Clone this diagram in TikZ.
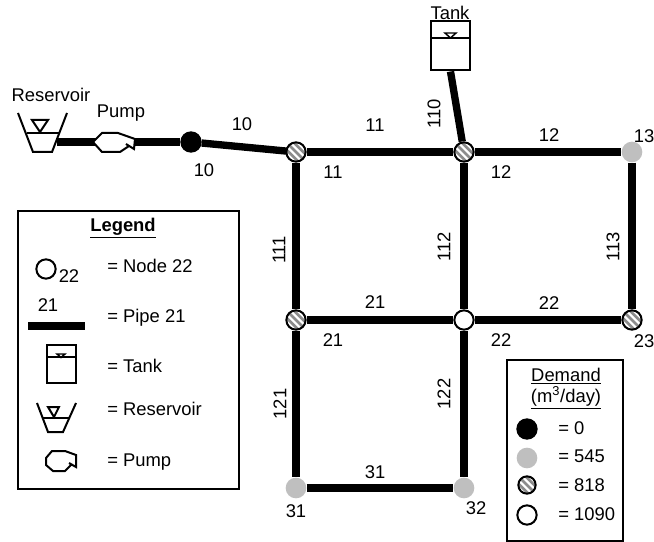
\documentclass[tikz,border=0pt]{standalone}
\usepackage{fontspec}
\setmainfont{Liberation Sans}
\usetikzlibrary{backgrounds}
\definecolor{nodegray}{HTML}{BFBFBF}
\tikzset{
  x=0.75pt,y=-0.75pt,
  lbl/.style={inner sep=0pt,font=\fontsize{13.8pt}{15pt}\selectfont},
  leftlbl/.style={lbl,anchor=west},
  vlbl/.style={lbl,rotate=90},
  pipe/.style={line width=5.5pt,line cap=butt},
  sym/.style={line width=1.5pt,line join=miter},
  junc/.style={circle,draw,line width=1.5pt,minimum size=14.5pt,inner sep=0pt},
  nblack/.style={junc,fill=black},
  ngray/.style={circle,fill=nodegray,minimum size=15.5pt,inner sep=0pt},
  nwhite/.style={junc,fill=white},
  nhatch/.style={junc,fill=white,path picture={
    \foreach \d in {-11,-5.5,0,5.5,11}{
      \draw[black!45,line width=2pt]
        ([shift={(\d pt,0pt)}]path picture bounding box.center)++(-9pt,9pt)--++(18pt,-18pt);
    }}},
}
\begin{document}
\begin{tikzpicture}
\useasboundingbox (0,0) rectangle (654,542);
% network nodes
\node[nblack] (n10) at (191,142) {};
\node[nhatch] (n11) at (296,152) {};
\node[nhatch] (n12) at (464,152) {};
\node[ngray]  (n13) at (632,152) {};
\node[nhatch] (n21) at (296,320) {};
\node[nwhite] (n22) at (464,320) {};
\node[nhatch] (n23) at (632,320) {};
\node[ngray]  (n31) at (296,488) {};
\node[ngray]  (n32) at (464,488) {};
\coordinate (resout) at (57,142);
\coordinate (pumpc) at (114,142);
% tank
\node[draw,line width=1.5pt,fill=white,minimum width=29.25pt,minimum height=36.75pt,inner sep=0pt] (tank) at (450.5,46) {};
\draw[sym] (431,38) -- (470,38);
\draw[sym,line width=1.1pt] (445,33) -- (456,33) -- (450.5,38) -- cycle;
% pipes
\begin{pgfonlayer}{background}
\draw[pipe] (resout) -- (pumpc);
\draw[pipe] (pumpc) -- (n10);
\draw[pipe] (n10) -- (n11.center);
\draw[pipe] (n11) -- (n12);
\draw[pipe] (n12) -- (n13);
\draw[pipe] (n11) -- (n21);
\draw[pipe] (n12) -- (n22);
\draw[pipe] (n13) -- (n23);
\draw[pipe] (n21) -- (n22);
\draw[pipe] (n22) -- (n23);
\draw[pipe] (n21) -- (n31);
\draw[pipe] (n22) -- (n32);
\draw[pipe] (n31) -- (n32);
\draw[pipe] (tank.south) -- (n12);
\end{pgfonlayer}
% reservoir
\draw[sym] (18,113) -- (33,152) -- (52,152) -- (67,113);
\draw[sym] (27,133) -- (59,133);
\draw[sym] (32,120) -- (48,120) -- (40,132) -- cycle;
% pump
\draw[sym,fill=white] (93,142) -- (102,133) -- (118,133) -- (135,139) -- (134,149) -- (126,144) -- (129,146) -- (120,152) -- (102,152) -- cycle;
% labels
\node[lbl] (tReservoir) at (51,95) {Reservoir};
\node[lbl] (tPump) at (121,113) {Pump};
\node[lbl] (tTank) at (450,13) {Tank};
\node[lbl] (p10) at (242,124) {10};
\node[lbl] (l10) at (204,170) {10};
\node[lbl] (p11) at (375,125) {11};
\node[lbl] (l11) at (333,172) {11};
\node[lbl] (p12) at (549,135) {12};
\node[lbl] (l12) at (501,172) {12};
\node[lbl] (l13) at (644,136) {13};
\node[vlbl] (p110) at (434,114) {110};
\node[vlbl] (p111) at (279,250) {111};
\node[vlbl] (p112) at (444,247) {112};
\node[vlbl] (p113) at (613,247) {113};
\node[lbl] (p21) at (375,302) {21};
\node[lbl] (l21) at (333,340) {21};
\node[lbl] (p22) at (549,303) {22};
\node[lbl] (l22) at (501,340) {22};
\node[lbl] (l23) at (644,341) {23};
\node[vlbl] (p121) at (280,404) {121};
\node[vlbl] (p122) at (444,394) {122};
\node[lbl] (p31) at (375,472) {31};
\node[lbl] (l31) at (296,511) {31};
\node[lbl] (l32) at (476,508) {32};
% legend
\node[draw,line width=1.5pt,minimum width=165.75pt,minimum height=208.5pt,inner sep=0pt] (legend) at (128.5,350) {};
\node[lbl] (legT) at (123,228) {\textbf{\underline{Legend}}};
\node[circle,draw,line width=1.5pt,minimum size=14.5pt,inner sep=0pt] (legN) at (46,269) {};
\node[lbl] (legN22) at (69,276) {22};
\node[leftlbl] (legNt) at (107,266) {= Node 22};
\node[lbl] (legP21) at (48,305) {21};
\coordinate (legPa) at (28,326);
\coordinate (legPb) at (85,326);
\draw[pipe] (legPa) -- (legPb);
\node[leftlbl] (legPt) at (107,318) {= Pipe 21};
\node[draw,line width=1.5pt,minimum width=21.75pt,minimum height=28.5pt,inner sep=0pt] (legTank) at (61.5,364) {};
\draw[sym] (47,357) -- (76,357);
\draw[sym,line width=1.1pt] (57,354) -- (65,354) -- (61,357.5) -- cycle;
\node[leftlbl] (legTt) at (107,366) {= Tank};
\draw[sym] (37,403) -- (48,432) -- (63,432) -- (76,403);
\draw[sym] (43,418) -- (70,418);
\draw[sym] (48,407) -- (59,407) -- (54,417) -- cycle;
\node[leftlbl] (legRt) at (107,409) {= Reservoir};
\draw[sym] (69,463) -- (76,467) -- (76,455) -- (65,451) -- (52,451) -- (46,458) -- (46,465) -- (53,471) -- (65,471) -- (72,464);
\node[leftlbl] (legPut) at (107,462) {= Pump};
% demand
\node[draw,line width=1.5pt,minimum width=87pt,minimum height=135.75pt,inner sep=0pt] (demand) at (565,450) {};
\node[lbl] (dem1) at (566,376) {\underline{Demand}};
\node[lbl] (dem2) at (566,398) {\underline{(m\textsuperscript{3}/day)}};
\node[nblack] (d0) at (527,429) {};
\node[ngray] (d1) at (527,458) {};
\node[nhatch,minimum size=13pt] (d2) at (527,485) {};
\node[nwhite] (d3) at (527,515) {};
\node[leftlbl] (d0t) at (558,428) {= 0};
\node[leftlbl] (d1t) at (558,456) {= 545};
\node[leftlbl] (d2t) at (558,485) {= 818};
\node[leftlbl] (d3t) at (558,514) {= 1090};
\end{tikzpicture}
\end{document}
